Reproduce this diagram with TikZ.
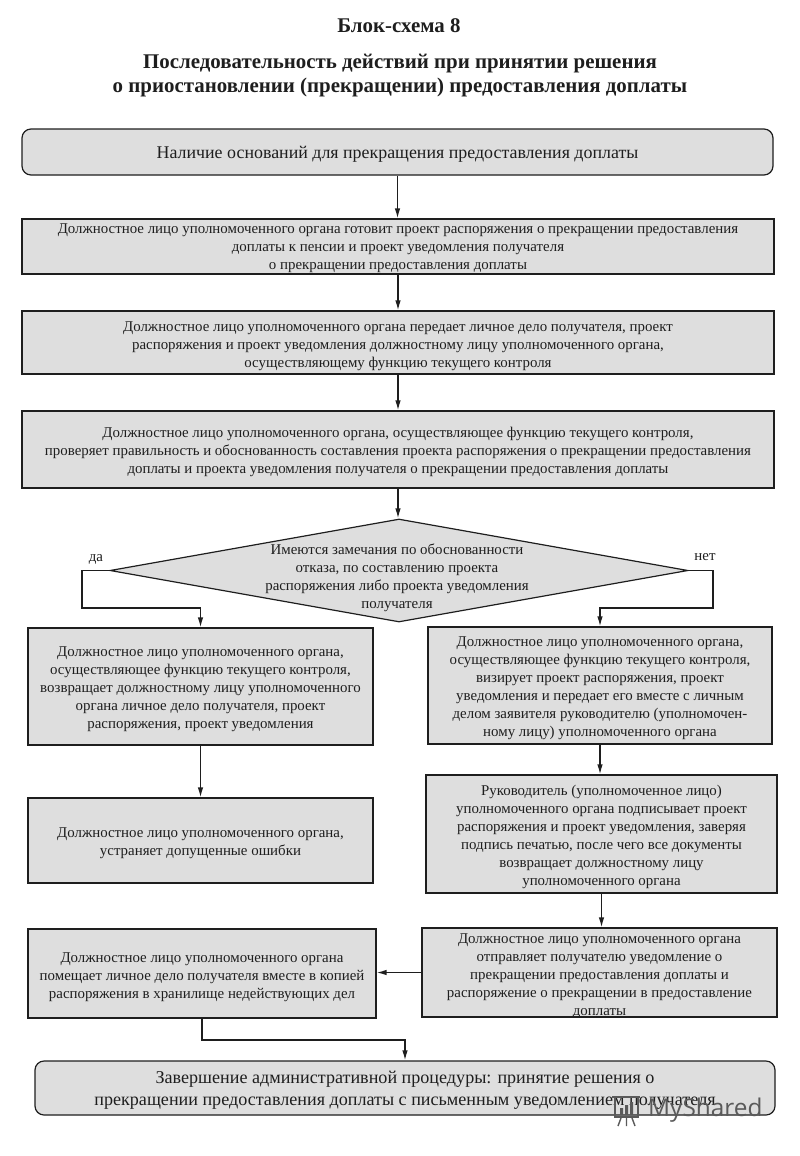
\documentclass[tikz,border=0pt]{standalone}
\usepackage{fontspec}
\setmainfont{Liberation Serif}
\newfontfamily\wmfont{Open Sans}
\usetikzlibrary{arrows.meta,shapes.geometric}
\definecolor{boxfill}{HTML}{DEDEDE}
\definecolor{ink}{HTML}{1E1E1E}
\definecolor{wm}{HTML}{5A5A5A}
\tikzset{
  base/.style={draw=ink,fill=boxfill,line width=1.2pt,inner sep=0pt,align=flush center,text=ink,font=\fontsize{14.9}{18}\selectfont},
  box/.style args={#1/#2}{base,text width=#1pt,minimum width=#1pt,minimum height=#2pt},
  rbox/.style args={#1/#2}{base,rounded corners=9pt,text width=#1pt,minimum width=#1pt,minimum height=#2pt},
  sh/.style={execute at begin node={\rule{0pt}{#1pt}}},
  diam/.style={diamond,draw=ink,fill=boxfill,line width=1.2pt,inner sep=0pt,minimum width=578pt,minimum height=103pt},
  lab/.style={inner sep=0pt,align=center,text=ink,font=\fontsize{14.9}{18}\selectfont},
  ttl/.style={inner sep=0pt,align=center,text=ink,font=\fontsize{20.9}{24}\selectfont\bfseries},
  conn/.style={draw=ink,line width=1.3pt,-{Latex[length=10pt,width=5.5pt]}}
}
\begin{document}
\begin{tikzpicture}[x=1pt,y=-1pt]
\useasboundingbox (0,0) rectangle (800,1156);
\node[ttl] (t1) at (399,26) {Блок-схема 8};
\node[ttl] (t2) at (400,76) {Последовательность действий при принятии решения\\о приостановлении (прекращении) предоставления доплаты};

\node[rbox=751/46,sh=16,font=\fontsize{17.9}{22}\selectfont] (top) at (397.5,152) {Наличие оснований для прекращения предоставления доплаты};
\node[box=752/55,sh=14] (b1) at (398,246.5) {Должностное лицо уполномоченного органа готовит проект распоряжения о прекращении предоставления\\доплаты к пенсии и проект уведомления получателя\\о прекращении предоставления доплаты};
\node[box=752/63,sh=17] (b2) at (398,342.5) {Должностное лицо уполномоченного органа передает личное дело получателя, проект\\распоряжения и проект уведомления должностному лицу уполномоченного органа,\\осуществляющему функцию текущего контроля};
\node[box=752/77,sh=15] (b3) at (398,449.5) {Должностное лицо уполномоченного органа, осуществляющее функцию текущего контроля,\\проверяет правильность и обоснованность составления проекта распоряжения о прекращении предоставления\\доплаты и проекта уведомления получателя о прекращении предоставления доплаты};
\node[diam] (d) at (399,570.5) {};
\node[lab,align=flush center] (dt) at (397,578) {Имеются замечания по обоснованности\\отказа, по составлению проекта\\распоряжения либо проекта уведомления\\получателя};
\node[lab] (yes) at (96,559.5) {да};
\node[lab] (no) at (705,557) {нет};

\node[box=345/117,sh=16] (L1) at (200.5,686.5) {Должностное лицо уполномоченного органа,\\осуществляющее функцию текущего контроля,\\возвращает должностному лицу уполномоченного\\органа личное дело получателя, проект\\распоряжения, проект уведомления};
\node[box=345/85,sh=15] (L2) at (200.5,840.5) {Должностное лицо уполномоченного органа,\\устраняет допущенные ошибки};
\node[box=348/89,sh=17] (L3) at (202,973.5) {Должностное лицо уполномоченного органа\\помещает личное дело получателя вместе в копией\\распоряжения в хранилище недействующих дел};

\node[box=344/117,sh=16] (R1) at (600,685.5) {Должностное лицо уполномоченного органа,\\осуществляющее функцию текущего контроля,\\визирует проект распоряжения, проект\\уведомления и передает его вместе с личным\\делом заявителя руководителю (уполномочен-\\ному лицу) уполномоченного органа};
\node[box=351/118,sh=17] (R2) at (601.5,834) {Руководитель (уполномоченное лицо)\\уполномоченного органа подписывает проект\\распоряжения и проект уведомления, заверяя\\подпись печатью, после чего все документы\\возвращает должностному лицу\\уполномоченного органа};
\node[box=355/89,sh=14] (R3) at (599.5,972.5) {Должностное лицо уполномоченного органа\\отправляет получателю уведомление о\\прекращении предоставления доплаты и\\распоряжение о прекращении в предоставление\\доплаты\par\vspace{-2pt}};
\node[rbox=740/54,sh=16,font=\fontsize{18.1}{22}\selectfont] (end) at (405,1088) {Завершение административной процедуры: принятие решения о\\прекращении предоставления доплаты с письменным уведомлением получателя};

\coordinate (yl) at (82,608);
\coordinate (yr) at (713,608);
\coordinate (ej) at (202,1040);

\draw[conn] (top.south) -- (top.south |- b1.north);
\draw[conn] (b1.south) -- (b2.north);
\draw[conn] (b2.south) -- (b3.north);
\draw[conn] (b3.south) -- (b3.south |- d.north);
\draw[conn] (d.west) -| (yl) -| (L1.north);
\draw[conn] (d.east) -| (yr) -| (R1.north);
\draw[conn] (L1.south) -- (L2.north);
\draw[conn] (R1.south) -- (R1.south |- R2.north);
\draw[conn] (R2.south) -- (R2.south |- R3.north);
\draw[conn] (R3.west) -- (R3.west -| L3.east);
\draw[conn] (L3.south) -- (ej) -| (end.north);

% watermark
\node[inner sep=0pt,anchor=west,text=wm,font=\fontsize{24.4}{28}\selectfont\wmfont] (wmtext) at (648,1110) {MyShared};
\draw[wm,line width=1.6pt] (615,1097) rectangle (638,1117);
\draw[wm,line width=1.6pt] (612,1097) -- (640,1097);
\fill[wm] (620,1108) rectangle (623,1115) (625,1105) rectangle (628,1115) (630,1102) rectangle (633,1115);
\draw[wm,line width=1.4pt] (621,1118) -- (618,1126) (626.5,1118) -- (626.5,1126) (632,1118) -- (635,1126);
\end{tikzpicture}
\end{document}
